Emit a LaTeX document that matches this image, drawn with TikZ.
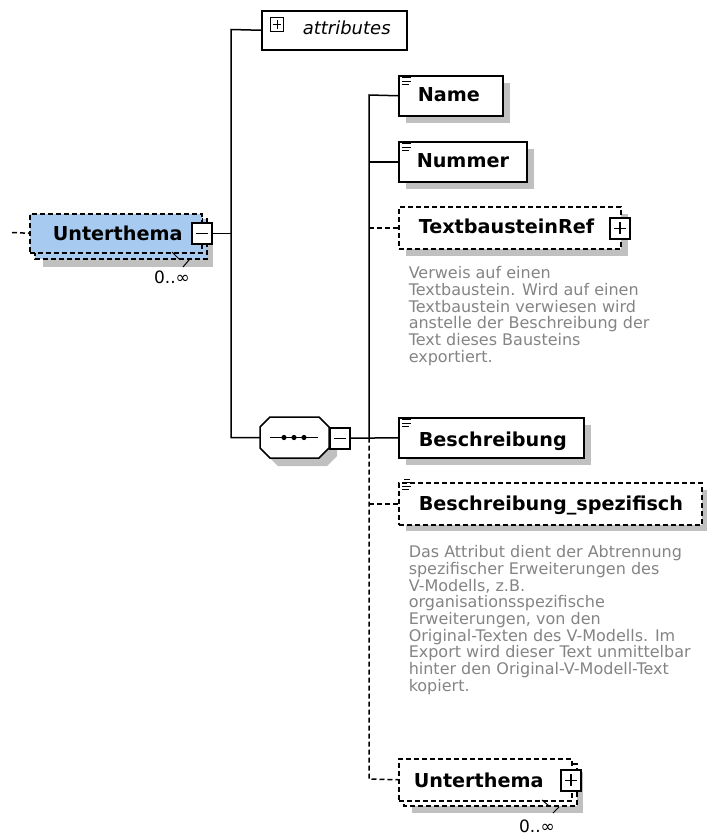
\documentclass[tikz,border=0pt]{standalone}
\usepackage{fontspec}
\setmainfont{DejaVu Sans}
\definecolor{shadowgray}{RGB}{192,192,192}
\definecolor{descgray}{RGB}{132,132,132}
\definecolor{rootblue}{RGB}{166,202,240}
\begin{document}
\begin{tikzpicture}[x=1pt,y=-1pt,line width=1.5pt,
  dashpat/.style={dash pattern=on 5pt off 3pt},
  boxnode/.style={draw, fill=white, inner sep=0, anchor=north west},
  shade/.style={fill=shadowgray, draw=none},
  lbl/.style={font=\fontsize{19.2}{20}\selectfont\bfseries, anchor=base west, inner sep=0},
  desc/.style={font=\fontsize{16}{16.7}\selectfont, text=descgray, align=left, anchor=north west, inner sep=0},
  mult/.style={font=\fontsize{17}{18}\selectfont, inner sep=0},
  pmbox/.style={draw, fill=white, minimum width=20pt, minimum height=21pt, inner sep=0, anchor=north west},
  iconline/.style={line width=0.9pt},
  notch/.style={line width=1pt}]
\useasboundingbox (0,0) rectangle (707,836);

% ---------- root Unterthema ----------
\fill[shade] (43,227) rectangle (213,267);
\draw[dashpat, fill=rootblue] (35,219) rectangle (207,259);
\node[boxnode, dashpat, fill=rootblue, minimum width=172pt, minimum height=39pt] (root) at (29,213) {};
\node[lbl] (rootT) at (52,240) {Unterthema};
\node[pmbox] (rootPM) at (191,222) {};
\draw (rootPM.center) ++(-6,0) -- ++(12,0);
\draw[notch] (172,252) -- (179,259);
\draw[notch] (183,267) -- (189,260);
\node[mult] (rootM) at (172,277) {0..∞};
\coordinate (rootIn) at (12,232.5);
\draw[dashpat] (rootIn) -- (root.west);

% ---------- attributes ----------
\node[boxnode, minimum width=145pt, minimum height=39pt] (attr) at (261,10) {};
\node[draw, fill=white, minimum width=13pt, minimum height=14pt, inner sep=0, anchor=north west, line width=1.1pt] (attrPM) at (270,17) {};
\draw[line width=1.1pt] (attrPM.west) ++(2.5,0) -- ++(8,0);
\draw[line width=1.1pt] (attrPM.north) ++(0,2.5) -- ++(0,9);
\node[font=\fontsize{18}{20}\selectfont\itshape, anchor=base west, inner sep=0] (attrT) at (302,34) {attributes};

% ---------- sequence ----------
\fill[shade] (278,425) -- (327,425) -- (337,435) -- (337,456) -- (327,466) -- (278,466) -- (268,456) -- (268,435) -- cycle;
\draw[fill=white] (270,417) -- (319,417) -- (329,427) -- (329,448) -- (319,458) -- (270,458) -- (260,448) -- (260,427) -- cycle;
\coordinate (seqW) at (260,437.5);
\coordinate (seqDotsL) at (270,437.5);
\coordinate (seqDotsR) at (318,437.5);
\draw[line width=1pt] (seqDotsL) -- (seqDotsR);
\fill (284,437.5) circle (2.6);
\fill (294,437.5) circle (2.6);
\fill (304,437.5) circle (2.6);
\node[pmbox] (seqPM) at (329,427) {};
\draw (seqPM.center) ++(-6,0) -- ++(12,0);

% ---------- trunk ----------
\coordinate (trunkTop) at (231,29.5);
\coordinate (trunkBot) at (231,437.5);
\draw (rootPM.east) -- (rootPM.east -| trunkTop);
\draw (attr.west) -- (trunkTop) -- (trunkBot) -- (seqW);

% ---------- Name ----------
\fill[shade] (406,83) rectangle (510,123);
\node[boxnode, minimum width=104pt, minimum height=40pt] (name) at (398,75) {};
\draw[iconline] (name.north west) ++(4,2.5) -- ++(9,0);
\draw[iconline] (name.north west) ++(4,6) -- ++(9,0);
\draw[iconline] (name.north west) ++(4,9.5) -- ++(7,0);
\node[lbl] (nameT) at (417,101) {Name};

% ---------- Nummer ----------
\fill[shade] (406,149) rectangle (534,189);
\node[boxnode, minimum width=128pt, minimum height=40pt] (nummer) at (398,141) {};
\draw[iconline] (nummer.north west) ++(4,2.5) -- ++(9,0);
\draw[iconline] (nummer.north west) ++(4,6) -- ++(9,0);
\draw[iconline] (nummer.north west) ++(4,9.5) -- ++(7,0);
\node[lbl] (nummerT) at (416,167) {Nummer};

% ---------- TextbausteinRef ----------
\fill[shade] (406,214) rectangle (628,256);
\node[boxnode, dashpat, minimum width=222pt, minimum height=42pt] (tbr) at (398,206) {};
\node[lbl] (tbrT) at (418,233) {TextbausteinRef};
\node[pmbox] (tbrPM) at (609,217) {};
\draw (tbrPM.center) ++(-6,0) -- ++(12,0);
\draw (tbrPM.center) ++(0,-6) -- ++(0,12);
\node[desc] (tbrD) at (408,265.8) {Verweis auf einen\\Textbaustein. Wird auf einen\\Textbaustein verwiesen wird\\anstelle der Beschreibung der\\Text dieses Bausteins\\exportiert.};

% ---------- Beschreibung ----------
\fill[shade] (406,425) rectangle (591,465);
\node[boxnode, minimum width=185pt, minimum height=40pt] (besch) at (398,417) {};
\draw[iconline] (besch.north west) ++(4,2.5) -- ++(9,0);
\draw[iconline] (besch.north west) ++(4,6) -- ++(9,0);
\draw[iconline] (besch.north west) ++(4,9.5) -- ++(7,0);
\node[lbl] (beschT) at (418,446) {Beschreibung};

% ---------- Beschreibung_spezifisch ----------
\fill[shade] (406,490) rectangle (709,531);
\node[boxnode, dashpat, minimum width=303pt, minimum height=42pt] (bspez) at (398,482) {};
\draw[iconline] (bspez.north west) ++(6,-3) -- ++(6,0);
\draw[iconline] (bspez.north west) ++(4,0.5) -- ++(9,0);
\draw[iconline] (bspez.north west) ++(4,4) -- ++(9,0);
\draw[iconline] (bspez.north west) ++(4,7.5) -- ++(7,0);
\node[lbl] (bspezT) at (418,510) {Beschreibung\_spezifisch};
\node[desc] (bspezD) at (408,544.8) {Das Attribut dient der Abtrennung\\spezifischer Erweiterungen des\\V-Modells, z.B.\\organisationsspezifische\\Erweiterungen, von den\\Original-Texten des V-Modells. Im\\Export wird dieser Text unmittelbar\\hinter den Original-V-Modell-Text\\kopiert.};

% ---------- bottom Unterthema ----------
\fill[shade] (412,772) rectangle (583,813);
\draw[dashpat, fill=white] (404,764) rectangle (577,806);
\node[boxnode, dashpat, minimum width=173pt, minimum height=42pt] (sub) at (398,758) {};
\node[lbl] (subT) at (413,787) {Unterthema};
\node[pmbox] (subPM) at (560,769) {};
\draw (subPM.center) ++(-6,0) -- ++(12,0);
\draw (subPM.center) ++(0,-6) -- ++(0,12);
\draw[notch] (542,800) -- (549,806);
\draw[notch] (553,813) -- (559,807);
\node[mult] (subM) at (537,826) {0..∞};

% ---------- second vertical and its connectors ----------
\coordinate (v2top) at (369,95);
\coordinate (v2mid) at (369,437.5);
\coordinate (v2bot) at (369,779);
\draw (name.west) -- (v2top) -- (v2mid);
\draw (nummer.west -| v2top) -- (nummer.west);
\draw (seqPM.east) -- (besch.west);
\draw[dashpat] (tbr.west -| v2top) -- (tbr.west);
\draw[dashpat] (bspez.west -| v2top) -- (bspez.west);
\draw[dashpat] (v2mid) -- (v2bot) -- (sub.west);
\end{tikzpicture}
\end{document}
